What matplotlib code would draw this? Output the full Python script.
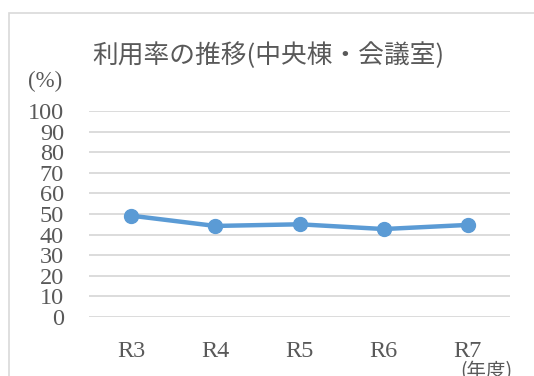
import matplotlib
matplotlib.use("Agg")
import matplotlib.pyplot as plt
from matplotlib.patches import Rectangle

categories = ["R3", "R4", "R5", "R6", "R7"]
values = [49.2, 44.2, 45.0, 42.7, 44.7]
yticks = [0, 10, 20, 30, 40, 50, 60, 70, 80, 90, 100]
title = "利用率の推移(中央棟・会議室)"
ylabel = "(%)"
xlabel = "(年度)"

W, H = 534, 376
fig = plt.figure(figsize=(W / 100, H / 100), dpi=100)
fig.patch.set_facecolor("white")

# chart border
fig.patches.append(Rectangle((9 / W, -0.1), 1.2, 1 - 13 / H + 0.1, transform=fig.transFigure,
                             fill=False, edgecolor="#d9d9d9", linewidth=1.2))

left, right = 89 / W, 510 / W
top, bottom = 1 - 111 / H, 1 - 317 / H
ax = fig.add_axes([left, bottom, right - left, top - bottom])
ax.set_xlim(-0.5, len(categories) - 0.5)
ax.set_ylim(0, 100)
for y in yticks:
    ax.axhline(y, color="#d9d9d9", linewidth=1.3, zorder=0)
for s in ax.spines.values():
    s.set_visible(False)
ax.set_yticks(yticks)
ax.set_xticks(range(len(categories)))
ax.set_xticklabels(categories)
ax.tick_params(length=0, colors="#595959", labelsize=17.5)
ax.tick_params(axis="y", pad=18)
ax.tick_params(axis="x", pad=17)
for lab in ax.get_xticklabels() + ax.get_yticklabels():
    lab.set_fontfamily("Liberation Serif")
ax.set_facecolor("none")

ax.plot(range(len(categories)), values, color="#5B9BD5", linewidth=3.2,
        marker="o", markersize=10, solid_capstyle="round", zorder=3)

fig.text(268 / W, 1 - 56 / H, title, ha="center", va="center", fontsize=18.5,
         color="#595959", family=["Noto Sans CJK JP", "DejaVu Sans"])
fig.text(45 / W, 1 - 81 / H, ylabel, ha="center", va="center", fontsize=16.5,
         color="#595959", family=["Liberation Serif", "Noto Sans CJK JP"])
fig.text(486 / W, 1 - 372 / H, xlabel, ha="center", va="center", fontsize=14,
         color="#595959", family=["Noto Sans CJK JP", "DejaVu Sans"])

fig.savefig("out.png", dpi=100)
